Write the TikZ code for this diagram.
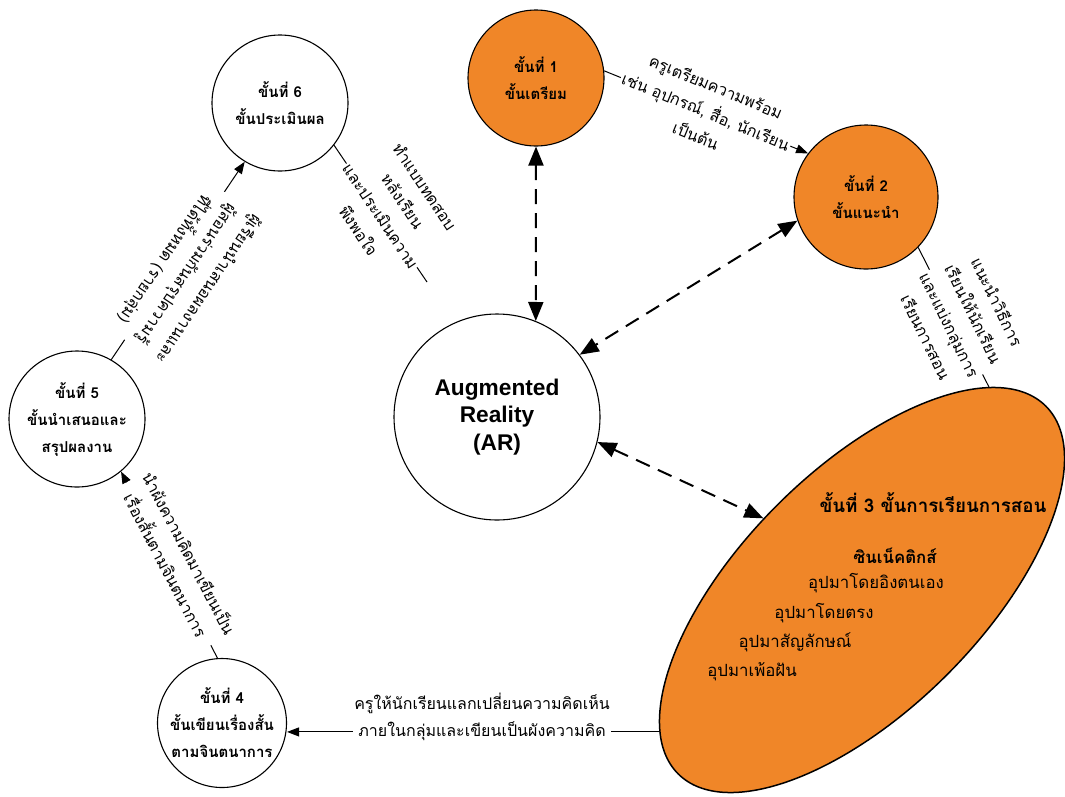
\documentclass[tikz,border=0pt]{standalone}
\usepackage{fontspec}
\newfontfamily\thai[Script=Thai]{Loma}
\newfontfamily\arial{Liberation Sans}
\usetikzlibrary{shapes.geometric,arrows.meta}
\definecolor{stepor}{RGB}{240,134,40}
\tikzset{
  stepc/.style={circle, draw, line width=1.1pt, inner sep=0pt},
  orangec/.style={stepc, fill=stepor},
  steptxt/.style={align=center, inner sep=0pt, font=\thai\bfseries\fontsize{15}{27}\selectfont},
  lab/.style={fill=white, inner sep=1.5pt, align=center, font=\thai\fontsize{16}{26.5}\selectfont},
  conn/.style={line width=1pt, -{Triangle[length=12pt,width=9pt]}},
  plainconn/.style={line width=1pt},
  dconn/.style={line width=2pt, dash pattern=on 15pt off 9pt,
    {Triangle[length=19pt,width=15pt]}-{Triangle[length=19pt,width=15pt]}},
  e3head/.style={inner sep=0pt, font=\thai\bfseries\fontsize{18.8}{22}\selectfont},
  e3item/.style={inner sep=0pt, font=\thai\fontsize{16.8}{20}\selectfont}
}
\begin{document}
\begin{tikzpicture}[x=1pt,y=-1pt]
\useasboundingbox (0,0) rectangle (1065,796);
% ellipse step 3
\node[draw, ellipse, fill=stepor, line width=1.5pt, minimum width=520, minimum height=240,
      rotate=45, inner sep=0pt] (e3) at (862,590) {};
\node[e3head] (h3) at (933,503) {ขั้นที่ 3 ขั้นการเรียนการสอน};
\node[e3head, font=\thai\bfseries\fontsize{16.8}{20}\selectfont] (k0) at (895,556) {ซินเน็คติกส์};
\node[e3item] (k1) at (876,583) {อุปมาโดยอิงตนเอง};
\node[e3item] (k2) at (824,613) {อุปมาโดยตรง};
\node[e3item] (k3) at (795,642) {อุปมาสัญลักษณ์};
\node[e3item] (k4) at (752,672) {อุปมาเพ้อฝัน};
% circles
\node[orangec, minimum size=136] (s1) at (536,78) {};
\node[steptxt] (t1) at (s1) {ขั้นที่ 1\\ขั้นเตรียม};
\node[orangec, minimum size=144] (s2) at (866,197) {};
\node[steptxt] (t2) at (s2) {ขั้นที่ 2\\ขั้นแนะนำ};
\node[stepc, minimum size=206] (ar) at (497,417) {};
\node[align=center, inner sep=0pt, font=\arial\bfseries\fontsize{22.7}{27.5}\selectfont] (tar) at (ar) {Augmented\\Reality\\(AR)};
\node[stepc, minimum size=136] (s6) at (280,103) {};
\node[steptxt] (t6) at (s6) {ขั้นที่ 6\\ขั้นประเมินผล};
\node[stepc, minimum size=136] (s5) at (77,419) {};
\node[steptxt] (t5) at (s5) {ขั้นที่ 5\\ขั้นนำเสนอและ\\สรุปผลงาน};
\node[stepc, minimum size=129] (s4) at (222,723) {};
\node[steptxt] (t4) at (s4) {ขั้นที่ 4\\ขั้นเขียนเรื่องสั้น\\ตามจินตนาการ};
% dashed connectors to AR
\draw[dconn] (s1.south) -- (ar.68);
\draw[dconn] (s2.199) -- (ar.37.6);
\draw[dconn] (ar.-14.6) -- (e3.99);
% solid connectors
\draw[conn] (s1.6.6) -- (s2.143);
\draw[plainconn] (s2.-44) -- (e3.13);
\draw[conn] (e3.170) -- (e3.170 -| s4.east);
\draw[conn] (s4.94.5) -- (s5.-50.8);
\draw[conn] (s5.60.6) -- (s6.239.2);
\coordinate (end6) at (427,282);
\draw[plainconn] (s6.-38.7) -- (end6);
% labels
\node[lab, rotate=-22.4] (l12) at (706,111) {ครูเตรียมความพร้อม\\เช่น อุปกรณ์, สื่อ, นักเรียน\\เป็นต้น};
\node[lab, rotate=-64] (l23) at (961.7,319.3) {แนะนำวิธีการ\\เรียนให้นักเรียน\\และแบ่งกลุ่มการ\\เรียนการสอน};
\node[lab] (l34) at (482,717) {ครูให้นักเรียนแลกเปลี่ยนความคิดเห็น\\ภายในกลุ่มและเขียนเป็นผังความคิด};
\node[lab, rotate=-62.5] (l45) at (178,559) {นำผังความคิดมาเขียนเป็น\\เรื่องสั้นตามจินตนาการ};
\node[lab, rotate=236] (l56) at (186,273.5) {ผู้เรียนนำเสนอผลงานและ\\ผู้สอนร่วมกันสรุปความรู้\\ที่ได้ทั้งหมด (รายกลุ่ม)};
\node[lab, rotate=-56.3] (l6) at (392,208.6) {ทำแบบทดสอบ\\หลังเรียน\\และประเมินความ\\พึงพอใจ};
\end{tikzpicture}
\end{document}
